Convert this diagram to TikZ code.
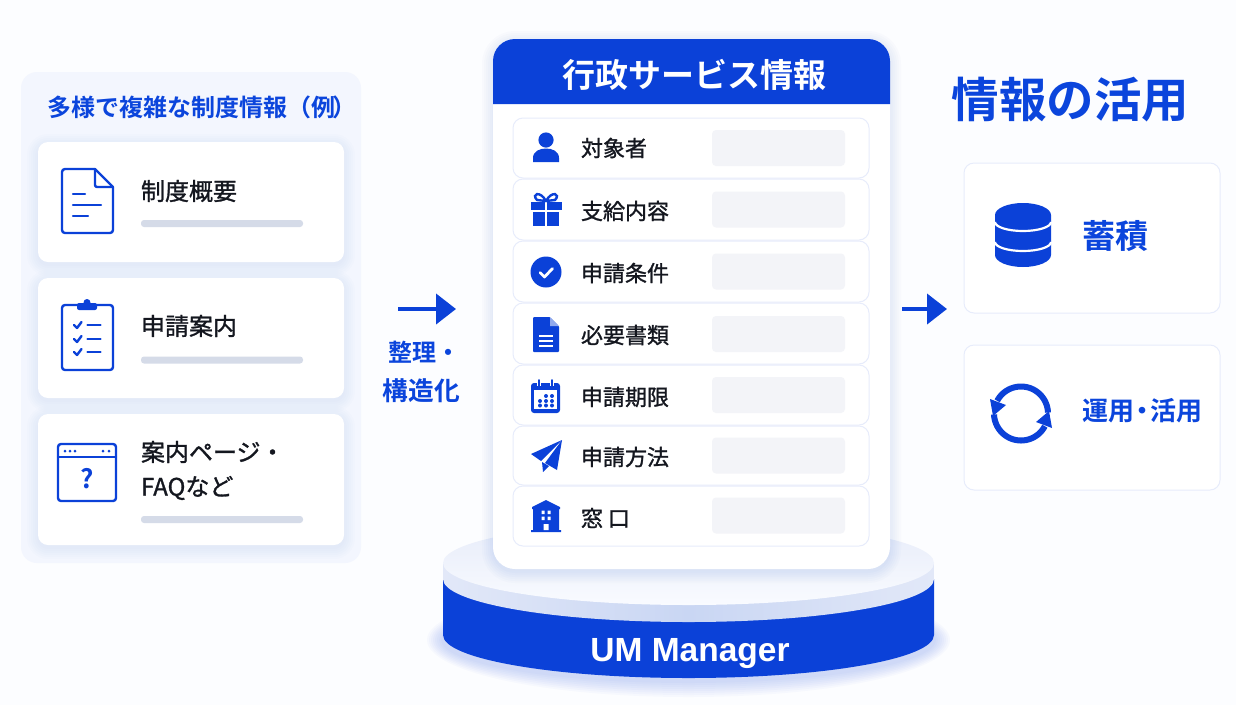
\documentclass[tikz,border=0pt]{standalone}
\usepackage{fontspec}
\usetikzlibrary{arrows.meta}
\setmainfont{Noto Sans CJK JP}
\newfontfamily\jpm[FakeBold=1.2]{Noto Sans CJK JP}
\newfontfamily\jpb{Noto Sans CJK JP Bold}
\newfontfamily\lat{Liberation Sans Bold}
\definecolor{bgc}{HTML}{FCFDFF}
\definecolor{panelc}{HTML}{F3F6FE}
\definecolor{ub}{HTML}{0B41D8}
\definecolor{tb}{HTML}{0B45DC}
\definecolor{ink}{HTML}{14171F}
\definecolor{barc}{HTML}{D5DBE8}
\definecolor{slotc}{HTML}{F3F4F8}
\definecolor{linec}{HTML}{E7ECFB}
\definecolor{shadowc}{HTML}{3F63C8}
\definecolor{lipside}{HTML}{E2E8F8}
\definecolor{lipmid}{HTML}{C9D6F3}
\definecolor{toptop}{HTML}{E6EBF9}
\definecolor{topbot}{HTML}{F9FBFF}
\newcommand{\fs}[1]{\fontsize{#1pt}{#1pt}\selectfont}
\newcommand{\softshadow}[6]{%
  \foreach \e in {1,3,5,7,9,11}{\fill[shadowc,opacity=#6,rounded corners=#5pt+\e pt]
    ({#1-\e},{#2-\e+3}) rectangle ({#3+\e},{#4+\e+3});}}
\tikzset{
  txt/.style={inner sep=0pt,outer sep=0pt},
  lbl/.style={txt,anchor=west,text=ink,font=\jpm\fs{24}},
  rowlbl/.style={txt,anchor=west,text=ink,font=\jpm\fs{22}},
  blue/.style={txt,text=tb,font=\jpb},
  card/.style={draw=none,fill=white,rounded corners=10pt,inner sep=0pt,outer sep=0pt},
  rowbox/.style={draw=linec,line width=1pt,fill=white,rounded corners=10pt,inner sep=0pt,
    minimum width=356pt,minimum height=60pt},
  slot/.style={fill=slotc,rounded corners=4pt,inner sep=0pt,minimum width=133pt,minimum height=36pt},
  bar/.style={fill=barc,rounded corners=3pt,inner sep=0pt,minimum width=162pt,minimum height=7pt},
  outcard/.style={draw=linec,line width=1pt,fill=white,rounded corners=10pt,inner sep=0pt,minimum width=256pt},
  ico/.style={draw=ub,line width=2.4pt,line join=round,line cap=round},
  flow/.style={draw=ub,line width=4pt,-{Triangle[length=20pt,width=30pt]}},
}
\begin{document}
\begin{tikzpicture}[x=1pt,y=-1pt]
\fill[bgc] (0,0) rectangle (1236,705);
\useasboundingbox (0,0) rectangle (1236,705);
% left panel
\node[fill=panelc,rounded corners=16pt,inner sep=0pt,minimum width=340pt,minimum height=491pt] (panel) at (191,317.5) {};
\node[blue,anchor=west,font=\jpb\fs{24}] (paneltitle) at (47,107) {多様で複雑な制度情報（例\hspace{-3pt}）};
\softshadow{38}{142}{344}{262}{10}{.012}
\softshadow{38}{278}{344}{398}{10}{.012}
\softshadow{38}{414}{344}{545}{10}{.012}
\node[card,minimum width=306pt,minimum height=120pt] (c1) at (191,202) {};
\node[card,minimum width=306pt,minimum height=120pt] (c2) at (191,338) {};
\node[card,minimum width=306pt,minimum height=131pt] (c3) at (191,479.5) {};
\node[lbl] (t1) at (141,191) {制度概要};
\node[lbl] (t2) at (141,326) {申請案内};
\node[lbl] (t3) at (141,452) {案内ページ・};
\node[lbl] (t3b) at (141,488) {FAQなど};
\node[bar] (b1) at (222,223.5) {};
\node[bar] (b2) at (222,360) {};
\node[bar] (b3) at (222,519.5) {};
% doc icon
\draw[ico,rounded corners=3pt] (95,169) -- (62,169) -- (62,233) -- (113,233) -- (113,187);
\draw[ico] (95,169) -- (113,187);
\draw[ico,rounded corners=2pt] (95,169) -- (95,187) -- (113,187);
\draw[ico] (73,194) -- (85,194) (73,205) -- (101,205) (73,216) -- (88,216);
% clipboard icon
\draw[ico,rounded corners=3pt] (62,305) rectangle (113,370);
\fill[ub,rounded corners=2pt] (77,303) rectangle (97,310);
\fill[ub] (87,302.5) circle[radius=3.5pt];
\foreach \yy in {325,339,352}{
  \draw[ico] (74,\yy) -- (77,{\yy+3}) -- (81.5,{\yy-3});
  \draw[ico] (87.5,\yy) -- (100.5,\yy);
}
% window icon
\draw[ico,rounded corners=3pt] (58,444) rectangle (116,501);
\draw[ico] (58,457) -- (116,457);
\foreach \xx in {65,70,75,103,109}{\fill[ub] (\xx,451) circle[radius=1.5pt];}
\node[txt,text=ub,font=\jpb\fs{26}] (qm) at (87,479) {?};
% platform
\foreach \e in {2,4,6,8,10,12,14,16}{\fill[ub,opacity=.024] (688.5,640) ellipse[x radius={245.5pt+\e pt},y radius={41pt+\e pt}];}
\fill[ub] (443,579) -- (443,635) arc[start angle=180,end angle=360,x radius=245.5pt,y radius=43pt] -- (934,579) -- cycle;
\shade[left color=lipside,right color=lipside,middle color=lipmid] (443,563) -- (443,579) arc[start angle=180,end angle=360,x radius=245.5pt,y radius=43pt] -- (934,563) -- cycle;
\shade[top color=toptop,bottom color=topbot] (688.5,563) ellipse[x radius=245.5pt,y radius=42pt];
\node[txt,text=white,font=\lat\fs{33.5}] (um) at (690,654) {UM Manager};
% centre card
\softshadow{493}{39}{890}{569}{22}{.02}
\node[fill=white,rounded corners=22pt,inner sep=0pt,minimum width=397pt,minimum height=530pt] (main) at (691.5,304) {};
\fill[ub] (493,104) {[rounded corners=22pt] -- (493,39) -- (890,39)} -- (890,104) -- cycle;
\node[txt,text=white,font=\jpb\fs{33}] (maintitle) at (694.5,75) {行政サービス情報};
\node[rowbox] (r1) at (691,148) {};
\node[rowbox,minimum height=61pt] (r2) at (691,209.5) {};
\node[rowbox,minimum height=61pt] (r3) at (691,271.5) {};
\node[rowbox,minimum height=61pt] (r4) at (691,333.5) {};
\node[rowbox] (r5) at (691,395) {};
\node[rowbox,minimum height=59pt] (r6) at (691,455.5) {};
\node[rowbox] (r7) at (691,516) {};
\node[slot] (s1) at (778.5,148) {};
\node[slot] (s2) at (778.5,209.5) {};
\node[slot] (s3) at (778.5,271.5) {};
\node[slot] (s4) at (778.5,334) {};
\node[slot] (s5) at (778.5,395) {};
\node[slot] (s6) at (778.5,455.5) {};
\node[slot] (s7) at (778.5,515.5) {};
\node[rowlbl] (l1) at (581,148) {対象者};
\node[rowlbl] (l2) at (581,211) {支給内容};
\node[rowlbl] (l3) at (581,273) {申請条件};
\node[rowlbl] (l4) at (581,335) {必要書類};
\node[rowlbl] (l5) at (581,397) {申請期限};
\node[rowlbl] (l6) at (581,457) {申請方法};
\node[rowlbl] (l7) at (581,518) {窓 口};
% person
\fill[ub] (546,140) circle[radius=7.6pt];
\fill[ub] (533,162) -- (533,158) .. controls (533,151) and (540,148.5) .. (546,148.5) .. controls (552,148.5) and (559,151) .. (559,158) -- (559,162) -- cycle;
% gift
\fill[ub] (531,202) rectangle (562,210);
\fill[ub] (533,212) rectangle (559,226);
\fill[white] (544.7,202) rectangle (547.3,226);
\draw[ub,line width=2.4pt] (546,201) .. controls (540,190) and (531,194) .. (537,200) -- (546,201) .. controls (552,190) and (561,194) .. (555,200) -- cycle;
% check
\fill[ub] (546,272) circle[radius=15.5pt];
\draw[white,line width=2.8pt,line cap=round,line join=round] (540,272.5) -- (544.5,277) -- (552.5,268.5);
% filled doc
\fill[ub,rounded corners=1pt] (533,317) -- (550,317) -- (559,326) -- (559,352) -- (533,352) -- cycle;
\fill[white,opacity=.55] (550,317) -- (559,326) -- (550,326) -- cycle;
\draw[white,line width=2pt] (539,336) -- (553,336) (539,341) -- (553,341) (539,346) -- (553,346);
% calendar
\fill[ub,rounded corners=3pt] (531,383) rectangle (560,413);
\fill[white] (534,390) rectangle (557,409);
\draw[white,line width=3.6pt] (539,380) -- (539,386) (552,380) -- (552,386);
\draw[ub,line width=1.6pt,line cap=round] (539,380) -- (539,386) (552,380) -- (552,386);
\foreach \xx/\yy in {546/396,552/396,540/401,546/401,552/401,540/405.5,546/405.5,552/405.5}{\fill[ub] (\xx,\yy) circle[radius=2pt];}
% plane
\fill[ub] (562,440) -- (531,454) -- (541,461) -- cycle;
\fill[ub] (562,440) -- (545,463) -- (557,470) -- cycle;
\fill[ub] (543,472) -- (542,462) -- (549,466) -- cycle;
% building
\fill[ub] (546,500) -- (560,507) -- (560,509) -- (559,509) -- (559,530) -- (561,530) -- (561,532) -- (531,532) -- (531,530) -- (533,530) -- (533,509) -- (532,509) -- (532,507) -- cycle;
\fill[white] (541.5,510.5) rectangle (544.5,514) (547.5,510.5) rectangle (550.5,514) (541.5,516.5) rectangle (544.5,520) (547.5,516.5) rectangle (550.5,520) (543.5,524) rectangle (548.5,530);
% arrows and their labels
\coordinate (a1s) at (398,309);
\coordinate (a1e) at (456,309);
\coordinate (a2s) at (902,309);
\coordinate (a2e) at (947,309);
\draw[flow] (a1s) -- (a1e);
\draw[flow] (a2s) -- (a2e);
\node[blue,font=\jpb\fs{24}] (st1) at (424,352) {整理・};
\node[blue,font=\jpb\fs{25.7}] (st2) at (421.5,391) {構造化};
% right side
\node[blue,font=\jpb\fs{47.5}] (righttitle) at (1070.5,100) {情報の活用};
\node[outcard,minimum height=150pt] (o1) at (1092,238) {};
\node[outcard,minimum height=145pt] (o2) at (1092,417.5) {};
\node[blue,font=\jpb\fs{33}] (o1t) at (1115.5,236) {蓄積};
\node[blue,font=\jpb\fs{26}] (o2t) at (1142,411) {運用\hspace{-5pt}・\hspace{-5pt}活用};
% database
\fill[ub] (995,215) -- (995,255) arc[start angle=180,end angle=360,x radius=28pt,y radius=12pt] -- (1051,215) arc[start angle=0,end angle=180,x radius=28pt,y radius=12pt] -- cycle;
\draw[white,line width=2.2pt] (995,222) arc[start angle=180,end angle=360,x radius=28pt,y radius=9pt];
\draw[white,line width=2.2pt] (995,242) arc[start angle=180,end angle=360,x radius=28pt,y radius=9pt];
% cycle
\draw[ub,line width=6pt] plot[smooth,domain=-2:-152,samples=30] ({1021+27*cos(\x)},{413.5+27*sin(\x)});
\draw[ub,line width=6pt] plot[smooth,domain=178:28,samples=30] ({1021+27*cos(\x)},{413.5+27*sin(\x)});
\fill[ub] (990,399) -- (1006,405) -- (993,416) -- cycle;
\fill[ub] (1052,428) -- (1036,422) -- (1049,411) -- cycle;
\end{tikzpicture}
\end{document}
